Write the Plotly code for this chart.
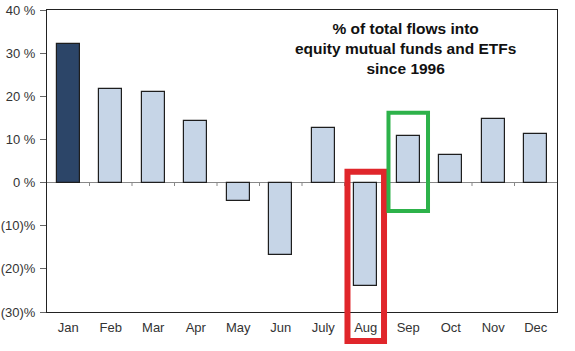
import plotly.graph_objects as go

months = ["Jan", "Feb", "Mar", "Apr", "May", "Jun", "July", "Aug", "Sep", "Oct", "Nov", "Dec"]
flows = [32.1, 21.7, 21.1, 14.3, -4.2, -16.7, 12.7, -23.9, 10.8, 6.4, 14.7, 11.3]
tick_vals = [40, 30, 20, 10, 0, -10, -20, -30]
tick_text = ["40 %", "30 %", "20 %", "10 %", "0 %", "(10)%", "(20)%", "(30)%"]

colors = ["#2C4568"] + ["#C6D5E7"] * (len(months) - 1)

fig = go.Figure()
fig.add_trace(go.Bar(
    x=list(range(len(months))), y=flows,
    marker=dict(color=colors, line=dict(color="#1E1E1E", width=1.2)),
    width=0.54,
))

W, H = 575, 351
ml, mr, mt, mb = 47, 18.3, 9.5, 39.3
ph = H - mt - mb

fig.update_layout(
    width=W, height=H,
    margin=dict(l=ml, r=mr, t=mt, b=mb, pad=0, autoexpand=False),
    paper_bgcolor="white", plot_bgcolor="white",
    showlegend=False,
    bargap=0,
    font=dict(family="Liberation Sans, Arial, sans-serif", size=13, color="#333333"),
    xaxis=dict(
        range=[-0.5, 11.5], tickvals=list(range(12)), ticktext=months,
        showgrid=False, zeroline=False, showline=True, linecolor="#222222", linewidth=1,
        mirror=True, ticks="", tickfont=dict(size=13, color="#333333"),
        ticklabelstandoff=3, automargin=False,
    ),
    yaxis=dict(
        range=[-30, 40], tickvals=tick_vals, ticktext=tick_text,
        showgrid=False, zeroline=True, zerolinecolor="#888888", zerolinewidth=1,
        showline=True, linecolor="#222222", linewidth=1, mirror=True,
        ticks="outside", ticklen=6, tickcolor="#666666", tickwidth=1,
        tickfont=dict(size=13, color="#333333"), ticklabelstandoff=2, automargin=False,
    ),
    annotations=[dict(
        text="<b>% of total flows into<br>equity mutual funds and ETFs<br>since 1996</b>",
        x=(405 - ml) / (W - ml - mr), y=(H - mb - 18) / ph,
        xref="paper", yref="paper", showarrow=False,
        xanchor="center", yanchor="top", align="center",
        font=dict(size=15.5, color="#111111", family="Liberation Sans, Arial, sans-serif"),
    )],
)

# small boundary ticks on the zero line
for b in range(1, 12):
    fig.add_shape(type="line", xref="x", yref="y", x0=b - 0.5, x1=b - 0.5, y0=0, y1=-0.8,
                  line=dict(color="#888888", width=1))

# highlight boxes
aug = months.index("Aug")
sep = months.index("Sep")
fig.add_shape(type="rect", xref="x", yref="paper",
              x0=aug - 0.43, x1=aug + 0.43,
              y0=(H - mb - 340.7) / ph, y1=(H - mb - 171.3) / ph,
              line=dict(color="#E0262B", width=6), fillcolor="rgba(0,0,0,0)", layer="above")
fig.add_shape(type="rect", xref="x", yref="y",
              x0=sep - 0.465, x1=sep + 0.465, y0=-6.6, y1=16.2,
              line=dict(color="#2DB24A", width=4), fillcolor="rgba(0,0,0,0)", layer="above")

fig.write_html("out.html")
